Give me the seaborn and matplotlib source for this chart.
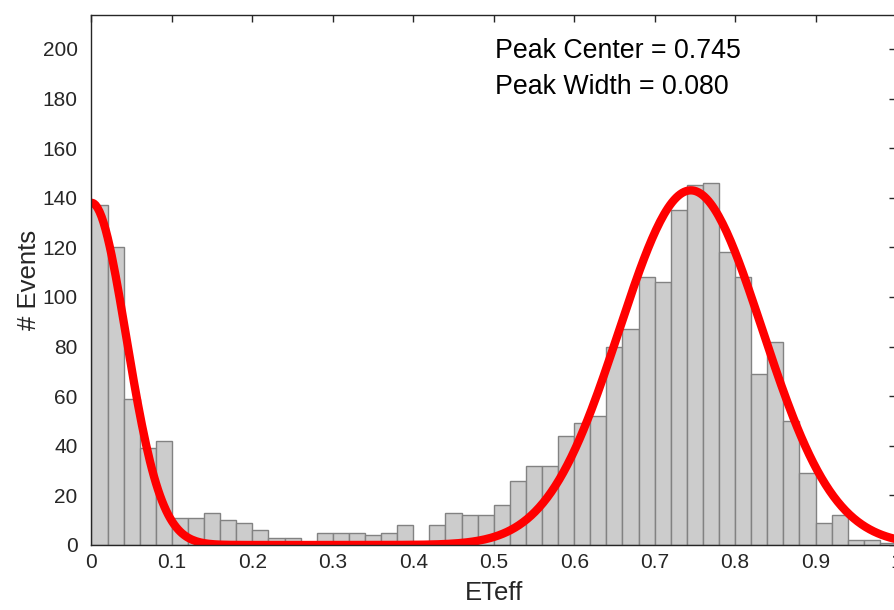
import numpy as np
import pandas as pd
import matplotlib
matplotlib.use("Agg")
import matplotlib.pyplot as plt
import seaborn as sns

# ---- data ----
bin_width = 0.02
bin_left = [round(i * bin_width, 2) for i in range(50)]
counts = [137, 120, 59, 39, 42, 11, 11, 13, 10, 9,
          6, 3, 3, 0, 5, 5, 5, 4, 5, 8,
          0, 8, 13, 12, 12, 16, 26, 32, 32, 44,
          49, 52, 80, 87, 108, 106, 135, 145, 146, 118,
          108, 69, 82, 50, 29, 9, 12, 2, 2, 1]

# fitted two-gaussian model (amplitude, centre, sigma) as drawn
fit_amp = [138, 143]
fit_center = [0.0, 0.745]
fit_sigma = [0.0433, 0.089]

x_ticks = [0, 0.1, 0.2, 0.3, 0.4, 0.5, 0.6, 0.7, 0.8, 0.9, 1]
x_tick_labels = ["0", "0.1", "0.2", "0.3", "0.4", "0.5", "0.6", "0.7", "0.8", "0.9", "1"]
y_ticks = list(range(0, 201, 20))

annot_lines = ["Peak Center = 0.745", "Peak Width = 0.080"]
x_label = "ETeff"
y_label = "# Events"

# ---- build tables ----
hist_df = pd.DataFrame({"center": [b + bin_width / 2 for b in bin_left], "count": counts})
edges = bin_left + [round(bin_left[-1] + bin_width, 2)]

xs = np.linspace(0, 1, 400)
ys = np.zeros_like(xs)
for a, c, s in zip(fit_amp, fit_center, fit_sigma):
    ys += a * np.exp(-((xs - c) ** 2) / (2 * s ** 2))
fit_df = pd.DataFrame({"x": xs, "y": ys})

# ---- style ----
sns.set_style("white")
plt.rcParams["font.family"] = ["Liberation Sans", "DejaVu Sans"]
text_col = "#262626"

fig = plt.figure(figsize=(8.95, 6.1), dpi=100)
ax = fig.add_axes([91.5 / 895, 65 / 610, (896 - 91.5) / 895, 530 / 610])

sns.histplot(data=hist_df, x="center", weights="count", bins=edges, stat="count",
             color="#cccccc", edgecolor="#828282", linewidth=1.0, alpha=1.0, ax=ax)
sns.lineplot(data=fit_df, x="x", y="y", color="#ff0000", linewidth=6.0, ax=ax)

ax.set_xlim(0, 1)
ax.set_ylim(0, 213.7)
ax.set_xticks(x_ticks)
ax.set_xticklabels(x_tick_labels)
ax.set_yticks(y_ticks)
ax.tick_params(axis="both", direction="in", length=5, width=1, top=True, right=True,
               labelsize=15, colors=text_col)
ax.tick_params(axis="y", pad=10)
ax.tick_params(axis="x", pad=6)
for sp in ax.spines.values():
    sp.set_color(text_col)
    sp.set_linewidth(1.0)

ax.set_xlabel(x_label, fontsize=18.5, color=text_col, labelpad=6)
ax.set_ylabel(y_label, fontsize=18.5, color=text_col, labelpad=1)

ax.text(0.501, 199.0, annot_lines[0], fontsize=19.3, color="black", va="center", ha="left")
ax.text(0.501, 184.8, annot_lines[1], fontsize=19.3, color="black", va="center", ha="left")

fig.savefig("out.png", dpi=100)
